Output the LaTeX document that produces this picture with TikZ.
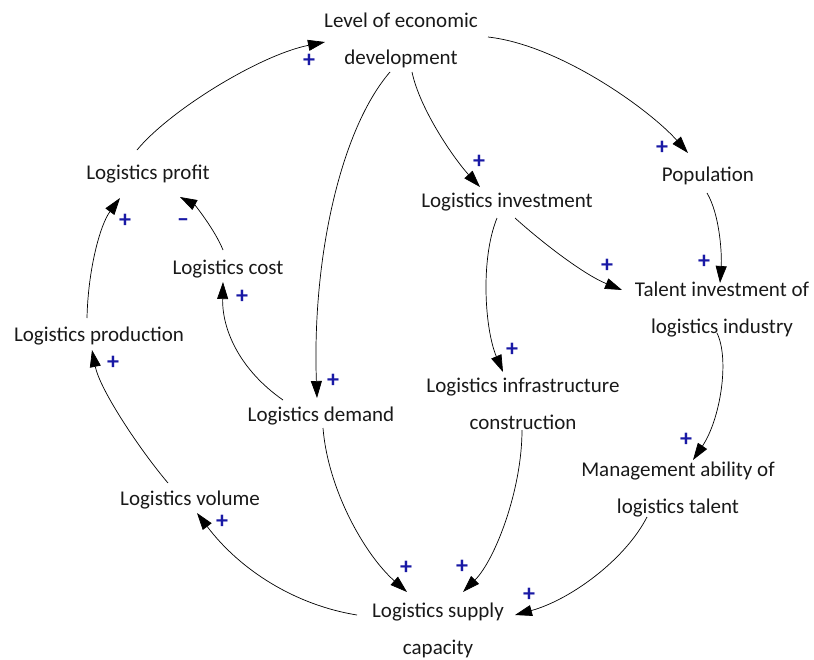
\documentclass[tikz,border=0pt]{standalone}
\usepackage{fontspec}
\setmainfont{Carlito}
\usetikzlibrary{arrows.meta}
\definecolor{signblue}{RGB}{25,25,165}
\tikzset{
  lbl/.style={inner sep=0pt, align=center, font=\fontsize{21}{37}\selectfont, text=black!90},
  link/.style={line width=0.7pt, -{Triangle[length=17pt,width=11pt]}},
  sgn/.style={inner sep=0pt, text=signblue, font=\fontsize{24}{24}\selectfont\bfseries}
}
\begin{document}
\begin{tikzpicture}[x=1pt,y=-1pt]
\path[use as bounding box] (0,0) rectangle (814,659);
% nodes
\node[lbl] (led)  at (401,40)  {Level of economic\\development};
\node[lbl] (pop)  at (708,176) {Population};
\node[lbl] (inv)  at (507,202) {Logistics investment};
\node[lbl] (lp)   at (148,174) {Logistics profit};
\node[lbl] (lc)   at (228,269) {Logistics cost};
\node[lbl] (tal)  at (722,310) {Talent investment of\\logistics industry};
\node[lbl] (prod) at (99,336)  {Logistics production};
\node[lbl] (inf)  at (523,404) {Logistics infrastructure\\construction};
\node[lbl] (dem)  at (321,416) {Logistics demand};
\node[lbl] (man)  at (678,490) {Management ability of\\logistics talent};
\node[lbl] (vol)  at (190,500) {Logistics volume};
\node[lbl] (sup)  at (438,630) {Logistics supply\\capacity};
% connectors
\draw[link] ([shift={(-11,-24)}]lp.center) .. controls +(33,-40) and +(-65,13) .. ([shift={(-76,2)}]led.center);
\draw[link] ([shift={(-11,32)}]led.center) .. controls +(-50,58) and +(-5,-138) .. ([shift={(-4,-18)}]dem.center);
\draw[link] ([shift={(11,32)}]led.center) .. controls +(8,38) and +(-25,-27) .. ([shift={(-27,-15)}]inv.center);
\draw[link] ([shift={(87,-3)}]led.center) .. controls +(72,8) and +(-38,-43) .. ([shift={(-20,-23)}]pop.center);
\draw[link] ([shift={(-1,17)}]pop.center) .. controls +(13,22) and +(2,-28) .. ([shift={(-2,-27)}]tal.center);
\draw[link] ([shift={(8,16)}]inv.center) .. controls +(30,27) and +(-37,-15) .. ([shift={(-100,-20)}]tal.center);
\draw[link] ([shift={(-10,16)}]inv.center) .. controls +(-17,42) and +(-18,-42) .. ([shift={(-20,-32)}]inf.center);
\draw[link] ([shift={(-5,23)}]tal.center) .. controls +(13,27) and +(27,-40) .. ([shift={(15,-30)}]man.center);
\draw[link] ([shift={(-31,27)}]man.center) .. controls +(-22,43) and +(55,-15) .. ([shift={(77,-15)}]sup.center);
\draw[link] ([shift={(-1,26)}]inf.center) .. controls +(0,60) and +(32,-32) .. ([shift={(25,-38)}]sup.center);
\draw[link] ([shift={(2,12)}]dem.center) .. controls +(5,62) and +(-42,-37) .. ([shift={(-31,-38)}]sup.center);
\draw[link] ([shift={(-81,-15)}]sup.center) .. controls +(-62,-10) and +(43,57) .. ([shift={(7,13)}]vol.center);
\draw[link] ([shift={(-22,-17)}]vol.center) .. controls +(-28,-33) and +(8,40) .. ([shift={(-7,14)}]prod.center);
\draw[link] ([shift={(-12,-18)}]prod.center) .. controls +(1,-48) and +(-20,27) .. ([shift={(-28,24)}]lp.center);
\draw[link] ([shift={(-38,-16)}]dem.center) .. controls +(-43,-30) and +(-1,48) .. ([shift={(-5,13)}]lc.center);
\draw[link] ([shift={(-5,-19)}]lc.center) .. controls +(-8,-20) and +(15,8) .. ([shift={(32,23)}]lp.center);
% polarity signs
\node[sgn] (s1)  at (309,61)  {+};
\node[sgn] (s2)  at (333,381) {+};
\node[sgn] (s3)  at (479,162) {+};
\node[sgn] (s4)  at (662,148) {+};
\node[sgn] (s5)  at (704,262) {+};
\node[sgn] (s6)  at (607,266) {+};
\node[sgn] (s7)  at (512,350) {+};
\node[sgn] (s8)  at (686,440) {+};
\node[sgn] (s9)  at (529,595) {+};
\node[sgn] (s10) at (462,567) {+};
\node[sgn] (s11) at (406,568) {+};
\node[sgn] (s12) at (222,522) {+};
\node[sgn] (s13) at (113,363) {+};
\node[sgn] (s14) at (125,221) {+};
\node[sgn] (s15) at (242,297) {+};
\node[sgn] (s16) at (183,223) {–};
\end{tikzpicture}
\end{document}
